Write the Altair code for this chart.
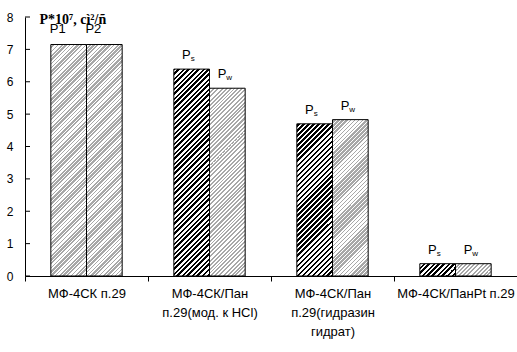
import altair as alt
import pandas as pd

categories = ["МФ-4СК п.29", "МФ-4СК/Пан\nп.29(мод. к HCl)",
              "МФ-4СК/Пан\nп.29(гидразин\nгидрат)", "МФ-4СК/ПанPt п.29"]
series_a = [7.15, 6.39, 4.70, 0.38]
series_b = [7.15, 5.80, 4.83, 0.38]
main_a = ["P1", "P", "P", "P"]
sub_a = ["", "s", "s", "s"]
main_b = ["P2", "P", "P", "P"]
sub_b = ["", "w", "w", "w"]
pat_a = ["light", "dark", "dark", "dark"]
pat_b = ["light", "light", "light", "light"]
y_ticks = [0, 1, 2, 3, 4, 5, 6, 7, 8]
y_title = "P*10⁷, cì²/ñ"

W, H = 492, 259
YMAX = 8
PAD_IN, PAD_OUT = 0.42, 0.21

rows = []
k = 0
for i, c in enumerate(categories):
    for j, (ser, vals, mains, subs, pats) in enumerate(
            (("a", series_a, main_a, sub_a, pat_a),
             ("b", series_b, main_b, sub_b, pat_b))):
        rows.append(dict(idx=k, gi=i, si=j, cat=c, ser=ser, value=vals[i],
                         main=mains[i], sub=subs[i], pat=pats[i]))
        k += 1
df = pd.DataFrame(rows)


def hatch(w, h, period, dark, color, phase):
    L = w + h
    r = h / w
    lfull = w + h * h / w
    kk = L / lfull
    segs = []
    n = 0
    while True:
        a = n * period - phase
        if a >= L:
            break
        b = a + dark
        c = a + period
        a2, b2, c2 = max(a, 0.0), min(max(b, 0.0), L), min(max(c, 0.0), L)
        segs += [(a2, color), (b2, color), (b2, "#ffffff"), (c2, "#ffffff")]
        n += 1
    out = []
    last = 0.0
    for s, col in segs:
        off = max(last, min(1.0, round(s / L, 5)))
        last = off
        out.append({"offset": off, "color": col})
    return {"gradient": "linear", "x1": 0, "y1": 0, "x2": kk, "y2": kk * r,
            "stops": out}


step = W / len(categories)
bar_w = step * (1 - PAD_IN) / 2

xaxis = alt.Axis(title=None, labelExpr="split(datum.label, '\\n')",
                 labelFont="Liberation Sans", labelFontSize=13, labelColor="#000",
                 labelLineHeight=19, labelPadding=6, labelAngle=0,
                 labelBaseline="top", labelOverlap=False, labelLimit=300,
                 tickSize=5, tickColor="#000", domainColor="#000",
                 tickOffset=-step / 2, labelOffset=step / 2, grid=False)
yaxis = alt.Axis(values=y_ticks, ticks=False, grid=False, labelPadding=12,
                 labelFont="Liberation Sans", labelFontSize=12, labelColor="#000",
                 domainColor="#000", title=y_title, titleX=14, titleY=6,
                 titleAngle=0, titleAlign="left", titleBaseline="alphabetic",
                 titleFont="Liberation Serif", titleFontSize=14,
                 titleFontWeight="bold", titleColor="#000")

X = alt.X("cat:N", scale=alt.Scale(domain=categories, paddingInner=PAD_IN,
                                   paddingOuter=PAD_OUT), axis=xaxis)
XO = alt.XOffset("ser:N", scale=alt.Scale(domain=["a", "b"]))
Y = alt.Y("value:Q", scale=alt.Scale(domain=[0, YMAX], nice=False), axis=yaxis)

layers = []
for r in rows:
    h = r["value"] * H / YMAX
    x0 = step * (r["gi"] + PAD_OUT) + r["si"] * bar_w
    y0 = H - h
    if r["pat"] == "dark":
        P, D = 5.0, 2.8
        fill = hatch(bar_w, h, P, D, "#000000", (x0 + y0) % P)
    else:
        P, D = 4.0, 2.0
        fill = hatch(bar_w, h, P, D, "#a8a8a8", (x0 + y0) % P)
    layers.append(
        alt.Chart(df).transform_filter(alt.datum.idx == r["idx"])
        .mark_bar(fill=fill, stroke="#000", strokeWidth=1)
        .encode(x=X, xOffset=XO, y=Y)
    )

tick_df = pd.DataFrame({"value": y_ticks})
layers.append(
    alt.Chart(tick_df).mark_rule(color="#000", strokeWidth=1)
    .encode(y=Y, x=alt.value(0), x2=alt.value(5))
)

layers.append(
    alt.Chart(df).transform_filter(alt.datum.sub == "")
    .mark_text(font="Liberation Sans", fontSize=13, color="#000",
               baseline="alphabetic", dx=-11, dy=-12)
    .encode(x=X, xOffset=XO, y=Y, text="main:N")
)
layers.append(
    alt.Chart(df).transform_filter(alt.datum.sub != "")
    .mark_text(font="Liberation Sans", fontSize=13, color="#000",
               baseline="alphabetic", align="right", dx=-1, dy=-10)
    .encode(x=X, xOffset=XO, y=Y, text="main:N")
)
layers.append(
    alt.Chart(df).transform_filter(alt.datum.sub != "")
    .mark_text(font="Liberation Sans", fontSize=8, color="#000",
               baseline="alphabetic", align="left", dx=-1, dy=-8)
    .encode(x=X, xOffset=XO, y=Y, text="sub:N")
)

chart = alt.layer(*layers).properties(
    width=W, height=H,
    autosize=alt.AutoSizeParams(type="none"),
    padding={"left": 25, "top": 17, "right": 0, "bottom": 76},
    background="#ffffff",
).configure_view(stroke=None)

chart.save("out.html", embed_options={"renderer": "svg", "actions": False})
